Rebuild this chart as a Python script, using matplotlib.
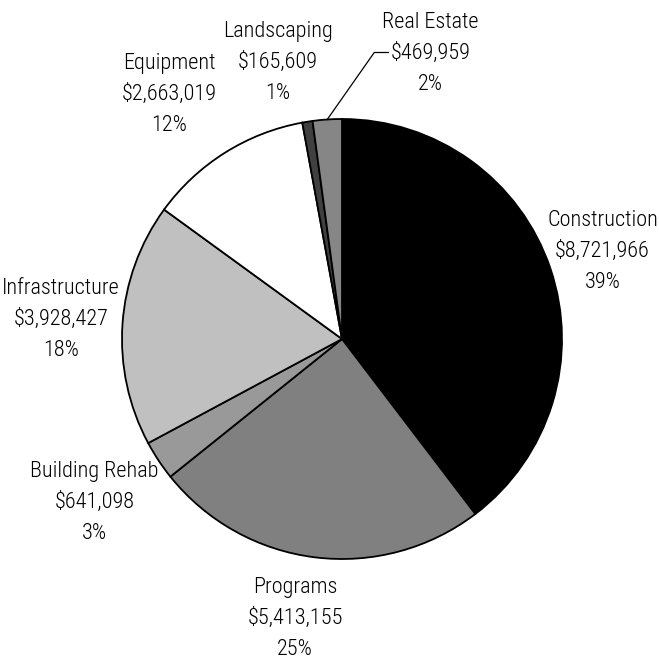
import numpy as np
import matplotlib.pyplot as plt

# Budget by category
categories = ['Construction', 'Programs', 'Building Rehab', 'Infrastructure',
              'Equipment', 'Landscaping', 'Real Estate']
amounts = [8721966, 5413155, 641098, 3928427, 2663019, 165609, 469959]
percent_labels = ['39%', '25%', '3%', '18%', '12%', '1%', '2%']

colors = ['#000000', '#808080', '#999999', '#c0c0c0', '#ffffff', '#404040', '#868686']

# label placement: distance from centre (x radius) and angle nudge in degrees
label_dist = [1.25, 1.29, 1.35, 1.28, 1.36, 1.29, 1.36]
label_nudge = [0, -2.5, 0, 0, 3, 4, -21]

plt.rcParams['font.family'] = ['Roboto Condensed', 'Sofia Sans Condensed', 'DejaVu Sans']

fig = plt.figure(figsize=(6.59, 6.71), dpi=100)
ax = fig.add_axes([0, 0, 1, 1])

cx, cy, R = 342, 332, 220
wedges, _ = ax.pie(amounts, colors=colors, startangle=90, counterclock=False,
                   center=(cx, cy), radius=R, frame=True,
                   wedgeprops=dict(edgecolor='black', linewidth=1.3))
ax.set_xlim(0, 659)
ax.set_ylim(0, 671)
ax.set_aspect('equal')
ax.axis('off')

for i, w in enumerate(wedges):
    mid = np.deg2rad((w.theta1 + w.theta2) / 2 + label_nudge[i])
    tx = cx + R * label_dist[i] * np.cos(mid)
    ty = cy + R * label_dist[i] * np.sin(mid)
    txt = f"{categories[i]}\n${amounts[i]:,}\n{percent_labels[i]}"
    ax.text(tx, ty, txt, ha='center', va='center', fontsize=16,
            fontweight='light', linespacing=1.62, color='black')

# leader line for the thin Real Estate slice
w = wedges[-1]
mid = np.deg2rad((w.theta1 + w.theta2) / 2)
ex, ey = cx + R * np.cos(mid), cy + R * np.sin(mid)
ax.plot([ex, ex + 47, ex + 61], [ey, ey + 67, ey + 67], color='black', lw=0.9)

fig.savefig('out.png', dpi=100)
